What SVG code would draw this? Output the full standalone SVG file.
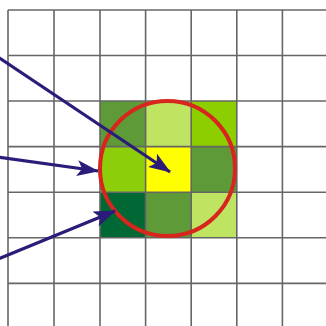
<svg xmlns="http://www.w3.org/2000/svg" width="326" height="326" viewBox="0 0 326 326">
<defs>
<style>
.grid line{stroke:#666;stroke-width:1.6}
.conn{stroke:#2a1c78;stroke-width:3.2;fill:none;marker-end:url(#ah)}
</style>
<marker id="ah" viewBox="0 0 22 16" refX="21" refY="8" markerWidth="22" markerHeight="16" markerUnits="userSpaceOnUse" orient="auto">
<path d="M0,0 L22,8 L0,16 L5,8 Z" fill="#2a1c78"/>
</marker>
</defs>
<rect width="326" height="326" fill="#fff"/>
<g id="cells">
<rect x="100" y="101" width="45.6" height="45.6" fill="#5e9a37"/>
<rect x="145.6" y="101" width="45.6" height="45.6" fill="#bfe462"/>
<rect x="191.2" y="101" width="45.6" height="45.6" fill="#8dce00"/>
<rect x="100" y="146.6" width="45.6" height="45.6" fill="#8dce0a"/>
<rect x="145.6" y="146.6" width="45.6" height="45.6" fill="#ffff00"/>
<rect x="191.2" y="146.6" width="45.6" height="45.6" fill="#5e9a37"/>
<rect x="100" y="192.2" width="45.6" height="45.6" fill="#006834"/>
<rect x="145.6" y="192.2" width="45.6" height="45.6" fill="#5e9a37"/>
<rect x="191.2" y="192.2" width="45.6" height="45.6" fill="#bfe462"/>
</g>
<g class="grid" id="grid">
<line x1="8" y1="10" x2="8" y2="326"/>
<line x1="54" y1="10" x2="54" y2="326"/>
<line x1="100" y1="10" x2="100" y2="326"/>
<line x1="145.6" y1="10" x2="145.6" y2="326"/>
<line x1="191.2" y1="10" x2="191.2" y2="326"/>
<line x1="236.8" y1="10" x2="236.8" y2="326"/>
<line x1="282.4" y1="10" x2="282.4" y2="326"/>
<line x1="8" y1="10" x2="326" y2="10"/>
<line x1="8" y1="55.5" x2="326" y2="55.5"/>
<line x1="8" y1="101" x2="326" y2="101"/>
<line x1="8" y1="146.6" x2="326" y2="146.6"/>
<line x1="8" y1="192.2" x2="326" y2="192.2"/>
<line x1="8" y1="237.8" x2="326" y2="237.8"/>
<line x1="8" y1="283.4" x2="326" y2="283.4"/>
</g>
<g id="circle">
<circle cx="167.5" cy="168.5" r="67.5" fill="none" stroke="#d7261e" stroke-width="4"/>
</g>
<g id="connectors">
<line class="conn" x1="-2" y1="57" x2="170" y2="172"/>
<line class="conn" x1="-2" y1="157" x2="98" y2="171"/>
<line class="conn" x1="-2" y1="259" x2="115" y2="211"/>
</g>
</svg>
